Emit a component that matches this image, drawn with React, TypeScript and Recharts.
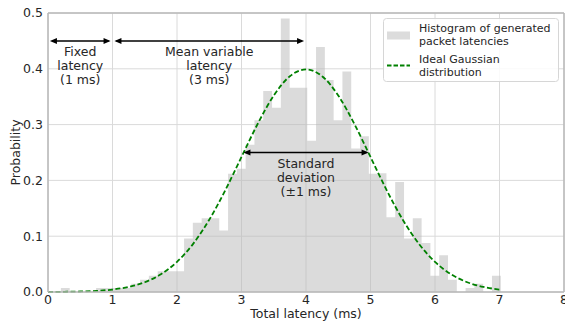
import React from 'react';
import {
  ComposedChart,
  Area,
  Line,
  XAxis,
  YAxis,
  CartesianGrid,
  ReferenceLine,
  ReferenceDot,
  Legend,
} from 'recharts';

// histogram of generated packet latencies (50 bins, density)
const histStart = 0.2;
const binWidth = 0.1364;
const histValues = [
  0.0073, 0, 0, 0, 0.0073, 0.0073, 0.0073, 0.0073, 0.0147, 0.022,
  0.029, 0.037, 0.037, 0.037, 0.096, 0.124, 0.132, 0.132, 0.11, 0.212,
  0.221, 0.264, 0.308, 0.36, 0.33, 0.49, 0.366, 0.366, 0.271, 0.439,
  0.38, 0.308, 0.395, 0.257, 0.279, 0.212, 0.213, 0.134, 0.197, 0.096,
  0.132, 0.088, 0.029, 0.066, 0.022, 0, 0.0073, 0.0147, 0, 0.029,
];

// ideal gaussian
const gaussX = [
  0, 0.25, 0.5, 0.75, 1, 1.25, 1.5, 1.75, 2, 2.25, 2.5, 2.75, 3, 3.25, 3.5,
  3.75, 4, 4.25, 4.5, 4.75, 5, 5.25, 5.5, 5.75, 6, 6.25, 6.5, 6.75, 7,
];
const gaussP = [
  0.0001, 0.0004, 0.0009, 0.002, 0.0044, 0.0091, 0.0175, 0.0317, 0.054, 0.0863,
  0.1295, 0.1826, 0.242, 0.3011, 0.3521, 0.3867, 0.3989, 0.3867, 0.3521, 0.3011,
  0.242, 0.1826, 0.1295, 0.0863, 0.054, 0.0317, 0.0175, 0.0091, 0.0044,
];

const xTicks = [0, 1, 2, 3, 4, 5, 6, 7, 8];
const yTicks = [0, 0.1, 0.2, 0.3, 0.4, 0.5];

const histData = histValues.map((p, i) => ({ x: histStart + i * binWidth, p }));
histData.push({ x: histStart + histValues.length * binWidth, p: histValues[histValues.length - 1] });
const gaussData = gaussX.map((x, i) => ({ x, g: gaussP[i] }));

const TEXT = '#262626';
const SPINE = '#b8b8b8';

// double headed arrow
const ArrowShape = (props: any) => {
  const { x1, y1, x2, y2 } = props;
  const h = 7;
  const w = 3;
  return (
    <g>
      <line x1={x1 + 2} y1={y1} x2={x2 - 2} y2={y2} stroke="#000" strokeWidth={1.5} />
      <polygon points={`${x1},${y1} ${x1 + h},${y1 - w} ${x1 + h},${y1 + w}`} fill="#000" />
      <polygon points={`${x2},${y2} ${x2 - h},${y2 - w} ${x2 - h},${y2 + w}`} fill="#000" />
    </g>
  );
};

const noteLines = (lines: string[]) => (props: any) => {
  const { cx, cy } = props;
  return (
    <text x={cx} y={cy} textAnchor="middle" fill={TEXT} fontSize={12.5}>
      {lines.map((l, i) => (
        <tspan key={i} x={cx} y={cy + 15 + i * 14}>
          {l}
        </tspan>
      ))}
    </text>
  );
};

const LegendBox = () => (
  <svg width={176} height={64} style={{ display: 'block' }}>
    <rect x={0.5} y={0.5} width={175} height={63} rx={3} fill="#fff" fillOpacity={0.85} stroke="#d6d6d6" />
    <rect x={4} y={13.5} width={23} height={8} fill="#dcdcdc" />
    <line x1={4} y1={47.5} x2={27} y2={47.5} stroke="#008000" strokeWidth={2} strokeDasharray="4.5 2" />
    <text x={36} fill={TEXT} fontSize={11}>
      <tspan x={36} y={13.7}>Histogram of generated</tspan>
      <tspan x={36} y={26.5}>packet latencies</tspan>
      <tspan x={36} y={45}>Ideal Gaussian</tspan>
      <tspan x={36} y={57.8}>distribution</tspan>
    </text>
  </svg>
);

export default function App() {
  return (
    <div style={{ position: 'absolute', left: 0, top: 0, fontFamily: '"DejaVu Sans", sans-serif' }}>
      <ComposedChart width={565} height={324} margin={{ top: 13, right: 1, bottom: 0, left: 0 }}>
        <CartesianGrid stroke="#dadada" strokeWidth={1} />
        <XAxis
          dataKey="x"
          type="number"
          domain={[0, 8]}
          ticks={xTicks}
          interval={0}
          allowDataOverflow
          height={32}
          tickSize={0}
          tickMargin={3}
          tick={{ fill: TEXT, fontSize: 12.5 }}
          axisLine={{ stroke: SPINE, strokeWidth: 1.5 }}
          label={{
            content: (p: any) => {
              const vb = p.viewBox;
              return (
                <text x={vb.x + vb.width / 2} y={vb.y + vb.height - 6} textAnchor="middle" fill={TEXT} fontSize={12.5}>
                  Total latency (ms)
                </text>
              );
            },
          }}
        />
        <YAxis
          type="number"
          domain={[0, 0.5]}
          ticks={yTicks}
          interval={0}
          width={48}
          tickSize={0}
          tickMargin={5}
          tickFormatter={(v: number) => v.toFixed(1)}
          tick={{ fill: TEXT, fontSize: 12.5 }}
          axisLine={{ stroke: SPINE, strokeWidth: 1.5 }}
          label={{
            content: (p: any) => {
              const vb = p.viewBox;
              const cy = vb.y + vb.height / 2;
              return (
                <text x={19.5} y={cy} transform={`rotate(-90, 19.5, ${cy})`} textAnchor="middle" fill={TEXT} fontSize={12.5}>
                  Probability
                </text>
              );
            },
          }}
        />
        <Area
          data={histData}
          dataKey="p"
          type="stepAfter"
          stroke="none"
          fill="#b8b8b8"
          fillOpacity={0.5}
          isAnimationActive={false}
          name="Histogram of generated packet latencies"
        />
        <Line
          data={gaussData}
          dataKey="g"
          type="monotone"
          stroke="#008000"
          strokeWidth={1.8}
          strokeDasharray="5 2.5"
          dot={false}
          isAnimationActive={false}
          name="Ideal Gaussian distribution"
        />
        <ReferenceLine y={0.5} stroke={SPINE} strokeWidth={1.5} />
        <ReferenceLine x={8} stroke={SPINE} strokeWidth={1.5} />
        <ReferenceLine segment={[{ x: 0.03, y: 0.45 }, { x: 0.97, y: 0.45 }]} shape={ArrowShape} />
        <ReferenceLine segment={[{ x: 1.03, y: 0.45 }, { x: 3.97, y: 0.45 }]} shape={ArrowShape} />
        <ReferenceLine segment={[{ x: 3.03, y: 0.25 }, { x: 4.97, y: 0.25 }]} shape={ArrowShape} />
        <ReferenceDot x={0.5} y={0.45} r={0} shape={noteLines(['Fixed', 'latency', '(1 ms)'])} />
        <ReferenceDot x={2.5} y={0.45} r={0} shape={noteLines(['Mean variable', 'latency', '(3 ms)'])} />
        <ReferenceDot x={4} y={0.25} r={0} shape={noteLines(['Standard', 'deviation', '(±1 ms)'])} />
        <Legend
          layout="horizontal"
          verticalAlign="middle"
          align="center"
          content={() => <LegendBox />}
          wrapperStyle={{ left: 383, top: 18, width: 176, height: 64 }}
        />
      </ComposedChart>
    </div>
  );
}
